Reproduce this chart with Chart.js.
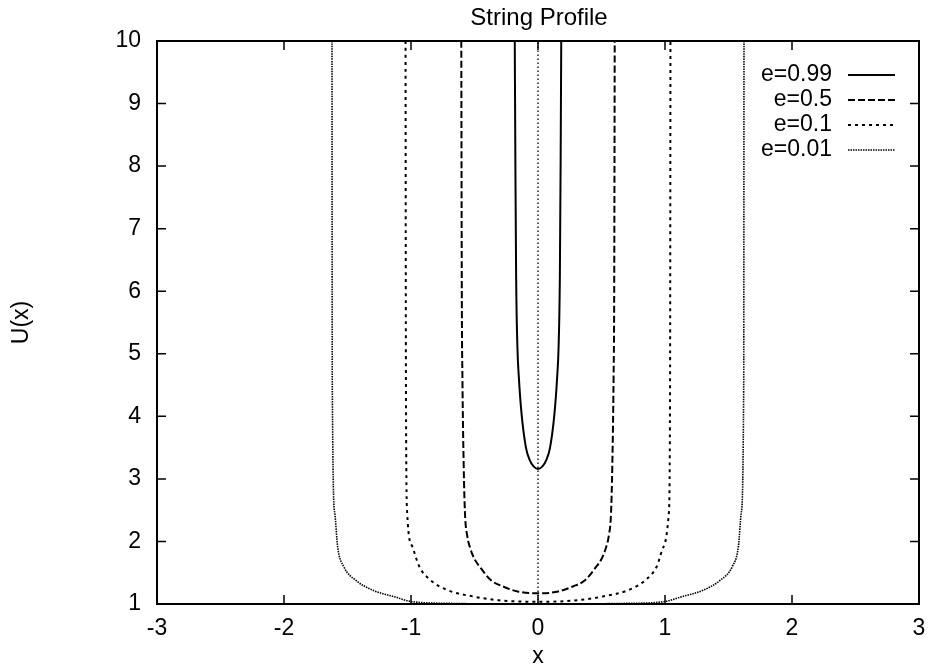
<!DOCTYPE html>
<html><head><meta charset="utf-8">
<script src="https://cdn.jsdelivr.net/npm/chart.js@4/dist/chart.umd.min.js"></script>
<style>html,body{margin:0;padding:0;background:#fff}</style>
</head><body>
<canvas id="c" width="929" height="670"></canvas>
<script>
const chartTitle = "String Profile";
const xLabel = "x";
const yLabel = "U(x)";
const xTicks = [-3, -2, -1, 0, 1, 2, 3];
const yTicks = [1, 2, 3, 4, 5, 6, 7, 8, 9, 10];
const seriesLabels = ["e=0.99", "e=0.5", "e=0.1", "e=0.01"];

const x099 = [-0.183, -0.178, -0.172, -0.162, -0.15, -0.13, -0.095, -0.065, -0.035, 0, 0.035, 0.065, 0.095, 0.13, 0.15, 0.162, 0.172, 0.178, 0.183];
const u099 = [10, 8, 6.2, 5.1, 4.6, 4.05, 3.5, 3.3, 3.2, 3.16, 3.2, 3.3, 3.5, 4.05, 4.6, 5.1, 6.2, 8, 10];

const x05 = [-0.604, -0.6, -0.595, -0.585, -0.575, -0.558, -0.535, -0.5, -0.46, -0.37, -0.275, -0.16, 0, 0.16, 0.275, 0.37, 0.46, 0.5, 0.535, 0.558, 0.575, 0.585, 0.595, 0.6, 0.604];
const u05 = [10, 6, 4.6, 3.2, 2.45, 2.1, 1.9, 1.72, 1.6, 1.38, 1.28, 1.2, 1.17, 1.2, 1.28, 1.38, 1.6, 1.72, 1.9, 2.1, 2.45, 3.2, 4.6, 6, 10];

const x01 = [-1.043, -1.04, -1.03, -0.99, -0.935, -0.845, -0.71, -0.51, -0.31, 0, 0.31, 0.51, 0.71, 0.845, 0.935, 0.99, 1.03, 1.04, 1.043];
const u01 = [10, 4.6, 2.45, 1.92, 1.6, 1.38, 1.22, 1.12, 1.06, 1.035, 1.06, 1.12, 1.22, 1.38, 1.6, 1.92, 2.45, 4.6, 10];

const x001 = [-1.622, -1.62, -1.6, -1.578, -1.53, -1.435, -1.3, -1.12, -1.0, -0.7, 0, 0.7, 1.0, 1.12, 1.3, 1.435, 1.53, 1.578, 1.6, 1.62, 1.622];
const u001 = [10, 4.6, 2.45, 1.92, 1.6, 1.38, 1.22, 1.11, 1.04, 1.01, 1.0, 1.01, 1.04, 1.11, 1.22, 1.38, 1.6, 1.92, 2.45, 4.6, 10];

const xCenter = [0, 0];
const uCenter = [1, 10];

const pts = (xs, ys) => xs.map((v, i) => ({x: v, y: ys[i]}));
const FONT = '"Liberation Sans", Arial, Helvetica, sans-serif';

const styles = [
  {borderWidth: 2, borderDash: []},
  {borderWidth: 2, borderDash: [7, 3]},
  {borderWidth: 2, borderDash: [3, 4]},
  {borderWidth: 1.6, borderDash: [1.5, 1]}
];
const seriesData = [pts(x099, u099), pts(x05, u05), pts(x01, u01), pts(x001, u001)];

const datasets = seriesData.map((d, i) => ({
  label: seriesLabels[i], data: d, showLine: true, pointRadius: 0,
  borderColor: '#000', backgroundColor: '#000', fill: false,
  cubicInterpolationMode: 'monotone',
  borderWidth: styles[i].borderWidth, borderDash: styles[i].borderDash
}));
datasets.push({label: '', data: pts(xCenter, uCenter), showLine: true, pointRadius: 0,
  borderColor: '#222', borderWidth: 1.5, borderDash: [1.5, 2.5], fill: false, isExtra: true});

const framePlugin = {
  id: 'frame',
  afterDraw(chart) {
    const ctx = chart.ctx, a = chart.chartArea;
    const xs = chart.scales.x, ys = chart.scales.y;
    ctx.save();
    ctx.fillStyle = '#000';
    ctx.font = '24px ' + FONT;
    ctx.textAlign = 'center';
    ctx.textBaseline = 'middle';
    ctx.fillText(chartTitle, (a.left + a.right) / 2 + 1, 18);
    ctx.strokeStyle = '#000';
    ctx.lineWidth = 2;
    ctx.setLineDash([]);
    ctx.strokeRect(a.left, a.top, a.right - a.left, a.bottom - a.top);
    ctx.lineWidth = 1.5;
    const tl = 9;
    ctx.beginPath();
    xTicks.forEach(v => {
      const p = xs.getPixelForValue(v);
      ctx.moveTo(p, a.bottom); ctx.lineTo(p, a.bottom - tl);
      ctx.moveTo(p, a.top); ctx.lineTo(p, a.top + tl);
    });
    yTicks.forEach(v => {
      const p = ys.getPixelForValue(v);
      ctx.moveTo(a.left, p); ctx.lineTo(a.left + tl, p);
      ctx.moveTo(a.right, p); ctx.lineTo(a.right - tl, p);
    });
    ctx.stroke();
    // legend
    ctx.font = '23px ' + FONT;
    ctx.textAlign = 'right';
    chart.data.datasets.forEach((ds, i) => {
      if (ds.isExtra) return;
      const y = 75 + i * 25;
      ctx.fillText(ds.label, 832, y);
      ctx.lineWidth = ds.borderWidth;
      ctx.setLineDash(ds.borderDash);
      ctx.beginPath();
      ctx.moveTo(848, y); ctx.lineTo(895, y);
      ctx.stroke();
    });
    ctx.restore();
  }
};

new Chart(document.getElementById('c'), {
  type: 'scatter',
  data: {datasets},
  options: {
    responsive: false, animation: false, devicePixelRatio: 1,
    layout: {padding: {left: 0, right: 10, top: 41, bottom: 0}},
    plugins: {legend: {display: false}, tooltip: {enabled: false}, title: {display: false}},
    scales: {
      x: {type: 'linear', min: -3, max: 3,
        afterBuildTicks: s => { s.ticks = xTicks.map(v => ({value: v})); },
        afterFit: s => { s.height = 66; s.paddingLeft = 0; s.paddingRight = 0; },
        grid: {display: false, drawTicks: false}, border: {display: false},
        ticks: {color: '#000', padding: 11, font: {family: FONT, size: 23}, maxRotation: 0},
        title: {display: true, text: xLabel, color: '#000', padding: {top: 0, bottom: 0},
          font: {family: FONT, size: 23}}
      },
      y: {type: 'linear', min: 1, max: 10,
        afterBuildTicks: s => { s.ticks = yTicks.map(v => ({value: v})); },
        afterFit: s => { s.width = 157; s.paddingTop = 0; s.paddingBottom = 0; },
        grid: {display: false, drawTicks: false}, border: {display: false},
        ticks: {color: '#000', padding: 16, font: {family: FONT, size: 23}},
        title: {display: true, text: yLabel, color: '#000', padding: {top: 8, bottom: 0},
          font: {family: FONT, size: 23}}
      }
    }
  },
  plugins: [framePlugin]
});
</script>
</body></html>
